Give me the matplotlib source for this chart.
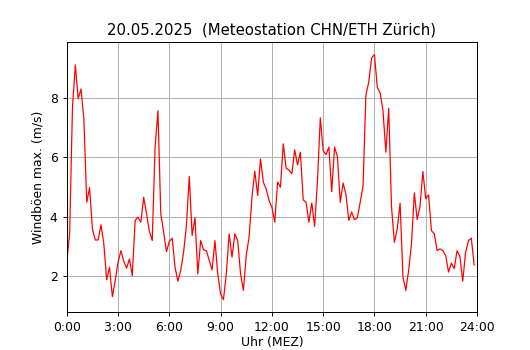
import numpy as np
import matplotlib
matplotlib.use('Agg')
import matplotlib.pyplot as plt

# Windboeen max. in m/s, alle 10 Minuten ab 0:00
boeen = [2.45, 3.42, 7.69, 9.11, 7.97, 8.30, 7.28, 4.48, 4.97, 3.58,
         3.21, 3.21, 3.72, 3.08, 1.87, 2.29, 1.30, 1.84, 2.46, 2.85,
         2.49, 2.26, 2.57, 2.01, 3.87, 3.98, 3.81, 4.65, 4.09, 3.50,
         3.19, 6.33, 7.57, 4.09, 3.47, 2.82, 3.16, 3.27, 2.29, 1.82,
         2.18, 2.80, 3.70, 5.35, 3.36, 3.96, 2.07, 3.19, 2.88, 2.85,
         2.52, 2.20, 3.19, 2.07, 1.39, 1.20, 2.07, 3.42, 2.63, 3.42,
         3.19, 2.07, 1.51, 2.69, 3.31, 4.65, 5.53, 4.71, 5.94, 5.16,
         4.93, 4.54, 4.31, 3.81, 5.16, 4.99, 6.45, 5.63, 5.57, 5.44,
         6.25, 5.74, 6.17, 4.56, 4.48, 3.81, 4.46, 3.67, 5.21, 7.33,
         6.22, 6.09, 6.34, 4.84, 6.34, 6.02, 4.48, 5.13, 4.74, 3.87,
         4.15, 3.89, 3.96, 4.48, 5.04, 8.10, 8.53, 9.35, 9.46, 8.36,
         8.17, 7.57, 6.17, 7.65, 4.31, 3.13, 3.58, 4.45, 1.96, 1.51,
         2.18, 3.08, 4.80, 3.90, 4.35, 5.52, 4.60, 4.73, 3.53, 3.42,
         2.85, 2.91, 2.85, 2.69, 2.13, 2.43, 2.24, 2.85, 2.65, 1.82,
         2.80, 3.19, 3.27, 2.37]

stunden = np.arange(len(boeen)) / 6
tick_pos = list(range(0, 25, 3))
tick_labels = ['%d:00' % h for h in tick_pos]

s = 0.89  # Bild wirkt wie eine verkleinerte Standardgrafik
plt.rcParams['font.size'] = 10 * s
plt.rcParams['xtick.major.size'] = 3.5 * s
plt.rcParams['ytick.major.size'] = 3.5 * s
plt.rcParams['xtick.major.width'] = 0.8 * s
plt.rcParams['ytick.major.width'] = 0.8 * s
plt.rcParams['axes.linewidth'] = 0.8 * s

fig = plt.figure(figsize=(5.3, 3.5), dpi=100)
ax = fig.add_axes([0.126, 0.109, 0.774, 0.770])
ax.plot(stunden, boeen, color='red', linewidth=1.0 * s)
ax.set_xlim(0, 24)
ax.set_xticks(tick_pos)
ax.set_xticklabels(tick_labels)
ax.set_yticks([2, 4, 6, 8])
ax.grid(True, color='#b0b0b0', linewidth=0.8 * s)
ax.set_axisbelow(True)
ax.set_xlabel('Uhr (MEZ)', labelpad=1.5)
ax.set_ylabel('Windböen max. (m/s)')
ax.set_title('20.05.2025  (Meteostation CHN/ETH Zürich)', fontsize=12 * s, pad=6 * s)
fig.savefig('out.png', dpi=100)
